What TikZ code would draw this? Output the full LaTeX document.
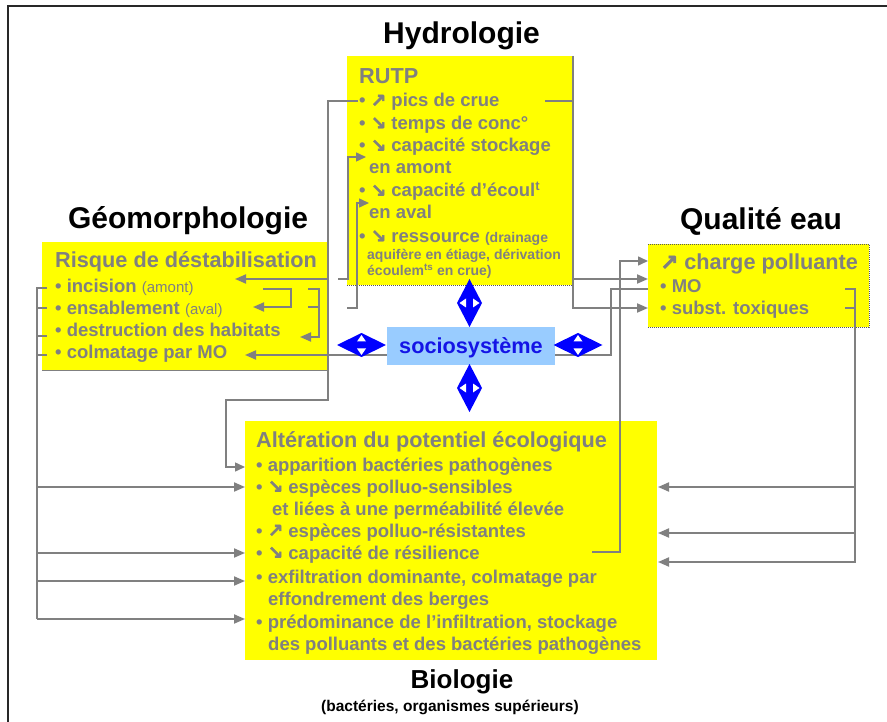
\documentclass[tikz,border=0pt]{standalone}
\usepackage{fontspec}
\setmainfont{Liberation Sans}
\newfontfamily\arrowfont{DejaVu Sans}[FakeBold=2.5]
\usetikzlibrary{arrows.meta}
\definecolor{txtgray}{RGB}{128,128,128}
\definecolor{boxyellow}{RGB}{255,255,0}
\definecolor{sociobg}{RGB}{153,204,255}
\definecolor{sociotxt}{RGB}{20,20,230}
\definecolor{dblblue}{RGB}{0,0,255}
\definecolor{framegray}{RGB}{40,40,40}
\newcommand\arrUp{{\arrowfont\bfseries ↗}}
\newcommand\arrDn{{\arrowfont\bfseries ↘}}
\newcommand\lightnote[1]{{\mdseries\fontsize{15}{18}\selectfont #1}}
\newcommand\smallnote[1]{{\fontsize{14}{16}\selectfont #1}}

\begin{document}
\begin{tikzpicture}[x=1pt,y=-1pt,
  ybox/.style={fill=boxyellow,inner sep=0pt,outer sep=0pt,anchor=north west},
  itm/.style={anchor=base west,inner sep=0pt,text=txtgray,font=\bfseries\fontsize{18.5}{22}\selectfont},
  hdr/.style={itm,font=\bfseries\fontsize{21.7}{26}\selectfont},
  sml/.style={itm,font=\bfseries\fontsize{14}{16}\selectfont},
  ttl/.style={anchor=base,inner sep=0pt,font=\bfseries\fontsize{30}{36}\selectfont},
  link/.style={draw=txtgray,line width=2pt},
  thinlink/.style={draw=txtgray,line width=1.5pt},
  arr/.style={link,-{Triangle[length=11pt,width=9pt]}},
  thinarr/.style={thinlink,-{Triangle[length=10pt,width=9pt]}},
  edgedots/.style={draw=black!65,line width=0.7pt,dash pattern=on 0.7pt off 1.3pt},
  vdbl/.pic={
    \fill[dblblue] (0,-24) -- (12.5,0) -- (0,24) -- (-12.5,0) -- cycle;
    \fill[white] (-10,0) -- (-3.5,-4.5) -- (-3.5,4.5) -- cycle;
    \fill[white] (10,0) -- (3.5,-4.5) -- (3.5,4.5) -- cycle;
  },
  hdbl/.pic={
    \fill[dblblue] (-24.5,0) -- (0,-12) -- (24.5,0) -- (0,12) -- cycle;
    \fill[white] (0,-10) -- (-4.5,-3.5) -- (4.5,-3.5) -- cycle;
    \fill[white] (0,10) -- (-4.5,3.5) -- (4.5,3.5) -- cycle;
  }]

\useasboundingbox (0,0) rectangle (887,722);
\fill[white] (0,0) rectangle (887,722);

% outer frame
\draw[framegray,line width=1.5pt] (8,722) -- (8,6) -- (887,6);

% ---------- boxes ----------
\node[ybox,minimum width=226pt,minimum height=229pt] (hydro) at (347,56) {};
\node[ybox,minimum width=286pt,minimum height=128pt] (geomorph) at (42,242) {};
\node[ybox,minimum width=221pt,minimum height=83pt] (qualite) at (648,244) {};
\node[ybox,minimum width=412pt,minimum height=239pt] (bio) at (245,421) {};

\draw[edgedots] (hydro.south west) -- (hydro.south east);
\draw[thinlink] (hydro.north east) -- (hydro.south east);
\draw[edgedots] (qualite.north west) -- (qualite.north east) -- (qualite.south east) -- (qualite.south west);
\draw[draw=txtgray,line width=1pt] (geomorph.south west) -- (geomorph.south east);

% ---------- titles ----------
\node[ttl] (tHydro) at (461.5,44) {Hydrologie};
\node[ttl] (tGeo) at (188,229) {Géomorphologie};
\node[ttl] (tQual) at (761,230) {Qualité eau};
\node[ttl,font=\bfseries\fontsize{26}{30}\selectfont] (tBio) at (462,688) {Biologie};
\node[ttl,font=\bfseries\fontsize{15.5}{18}\selectfont] (tBioSub) at (450,711) {(bactéries, organismes supérieurs)};

% ---------- connectors ----------
\coordinate (picsL) at (358,101);
\coordinate (picsDrop) at (328,279);
\coordinate (bactIn) at (245,467);
\coordinate (risqIn) at (235,279);
\draw[thinarr] (picsL) -- (328,101) -- (328,400) -- (226,400) -- (226,467) -- (bactIn);
\draw[arr] (picsDrop) -- (risqIn);

\coordinate (stockIn) at (366,157);
\coordinate (ecoulIn) at (369,203);
\draw[thinarr] (338,279) -- (348,279) -- (348,157) -- (stockIn);
\draw[thinarr] (347,308) -- (357,308) -- (357,203) -- (ecoulIn);

% inside the geomorphology box
\coordinate (incR1) at (263,289);
\coordinate (ensIn) at (253,307);
\coordinate (incR2) at (308,289);
\coordinate (ensR2) at (308,307);
\coordinate (habIn) at (300,337);
\draw[arr] (incR1) -- (291,289) -- (291,307) -- (ensIn);
\draw[arr] (incR2) -- (319,289) -- (319,337) -- (habIn);
\draw[link] (ensR2) -- (319,307);

% geomorphology → biology
\coordinate (geoT1) at (47,288);
\draw[link] (geoT1) -- (37,288) -- (37,619);
\foreach \yy in {308,336,355} \draw[link] (37,\yy) -- (47,\yy);
\foreach \yy in {487,553,581,619} \draw[arr] (37,\yy) -- (245,\yy);

% hydrology → water quality
\coordinate (picsR) at (545,101);
\coordinate (moIn) at (648,279);
\coordinate (toxIn) at (648,308);
\draw[thinlink] (picsR) -- (573,101);
\draw[arr] (573,101) -- (573,308) -- (toxIn);
\draw[arr] (573,279) -- (moIn);

% resilience → pollutant load
\coordinate (resilR) at (592,552);
\coordinate (chargeIn) at (648,261);
\draw[thinarr] (resilR) -- (620,552) -- (620,261) -- (chargeIn);

% sociosystem links
\coordinate (socioR) at (555,355);
\coordinate (moL) at (648,289);
\coordinate (socioL) at (387,355);
\coordinate (colmIn) at (245,355);
\draw[thinlink] (socioR) -- (611,355) -- (611,289) -- (moL);
\draw[arr] (socioL) -- (colmIn);

% water quality → biology
\coordinate (moR) at (845,289);
\coordinate (toxR) at (845,308);
\draw[arr] (moR) -- (855,289) -- (855,562) -- (658,562);
\draw[link] (toxR) -- (855,308);
\draw[arr] (855,487) -- (658,487);
\draw[arr] (855,533) -- (658,533);

% ---------- sociosystème ----------
\node[fill=sociobg,inner sep=0pt,anchor=north west,minimum width=168pt,minimum height=38pt] (socio) at (387,327) {};
\node[anchor=base,inner sep=0pt,text=sociotxt,font=\bfseries\fontsize{21.7}{26}\selectfont] (socioLbl) at (471,353) {sociosystème};
\pic (dblN) at (469.5,303) {vdbl};
\pic (dblS) at (469.5,388) {vdbl};
\pic (dblW) at (361.5,345) {hdbl};
\pic (dblE) at (578,345) {hdbl};

% ---------- hydrology text ----------
\node[hdr] (h0) at (359,84) {RUTP};
\node[itm] (h1) at (359,107) {• \arrUp{} pics de crue};
\node[itm] (h2) at (359,129.5) {• \arrDn{} temps de conc°};
\node[itm] (h3) at (359,152) {• \arrDn{} capacité stockage};
\node[itm] (h3b) at (369,174) {en amont};
\node[itm] (h4) at (359,197) {• \arrDn{} capacité d’écoul\textsuperscript{t}};
\node[itm] (h4b) at (369,218.5) {en aval};
\node[itm] (h5) at (359,242.5) {• \arrDn{} ressource \smallnote{(drainage}};
\node[sml] (h5b) at (367,260) {aquifère en étiage, dérivation};
\node[sml] (h5c) at (367,276) {écoulem\textsuperscript{ts} en crue)};

% ---------- geomorphology text ----------
\node[hdr] (g0) at (55,268) {Risque de déstabilisation};
\node[itm] (g1) at (55,293) {• incision \lightnote{(amont)}};
\node[itm] (g2) at (55,315) {• ensablement \lightnote{(aval)}};
\node[itm] (g3) at (55,337) {• destruction des habitats};
\node[itm] (g4) at (55,359) {• colmatage par MO};

% ---------- water quality text ----------
\node[hdr] (q0) at (660,270) {\arrUp{} charge polluante};
\node[itm] (q1) at (660,293) {• MO};
\node[itm] (q2) at (660,315) {• subst. toxiques};

% ---------- biology text ----------
\node[hdr] (b0) at (256,447) {Altération du potentiel écologique};
\node[itm] (b1) at (256,471) {• apparition bactéries pathogènes};
\node[itm] (b2) at (256,493) {• \arrDn{} espèces polluo-sensibles};
\node[itm] (b2b) at (272,515) {et liées à une perméabilité élevée};
\node[itm] (b3) at (256,537) {• \arrUp{} espèces polluo-résistantes};
\node[itm] (b4) at (256,559) {• \arrDn{} capacité de résilience};
\node[itm] (b5) at (256,583) {• exfiltration dominante, colmatage par};
\node[itm] (b5b) at (268,605) {effondrement des berges};
\node[itm] (b6) at (256,628) {• prédominance de l’infiltration, stockage};
\node[itm] (b6b) at (268,650) {des polluants et des bactéries pathogènes};

\end{tikzpicture}
\end{document}
